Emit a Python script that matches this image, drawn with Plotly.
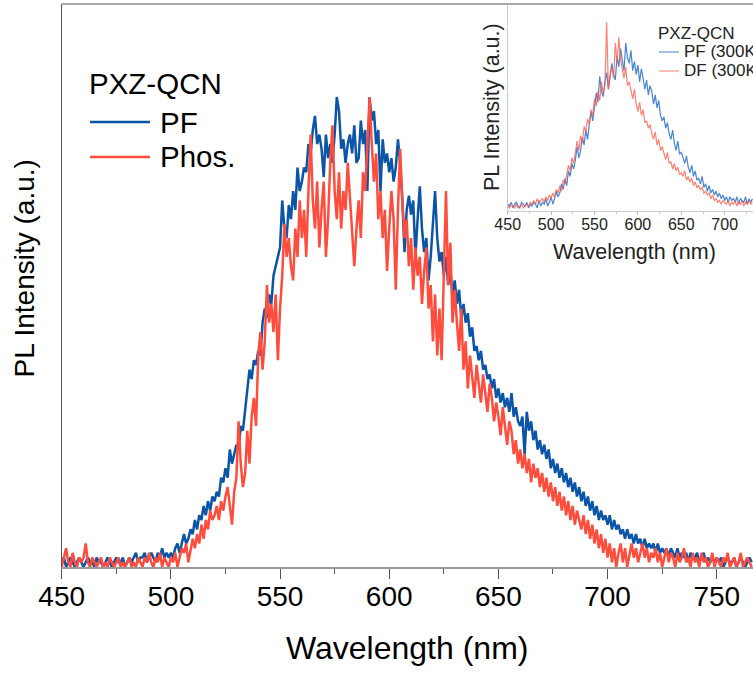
import plotly.graph_objects as go

# ---------------- data ----------------
wl_start, wl_step = 450, 1
pf_main = [
    0.01, 0.02, 0.00, 0.01, 0.02, 0.01, 0.00, 0.01, 0.02, 0.01,
    0.00, 0.01, 0.02, 0.01, 0.01, 0.00, 0.02, 0.01, 0.01, 0.00,
    0.01, 0.02, 0.01, 0.00, 0.01, 0.02, 0.01, 0.01, 0.02, 0.00,
    0.01, 0.02, 0.01, 0.02, 0.03, 0.01, 0.02, 0.02, 0.03, 0.01,
    0.02, 0.03, 0.02, 0.01, 0.03, 0.02, 0.04, 0.02, 0.03, 0.02,
    0.03, 0.02, 0.04, 0.05, 0.03, 0.05, 0.07, 0.05, 0.06, 0.08,
    0.07, 0.10, 0.08, 0.11, 0.10, 0.13, 0.11, 0.14, 0.12, 0.15,
    0.14, 0.16, 0.15, 0.19, 0.18, 0.21, 0.19, 0.25, 0.22, 0.24,
    0.26, 0.25, 0.30, 0.29, 0.33, 0.37, 0.42, 0.40, 0.44, 0.43,
    0.46, 0.45, 0.52, 0.55, 0.53, 0.58, 0.56, 0.62, 0.64, 0.66,
    0.68, 0.78, 0.72, 0.70, 0.77, 0.74, 0.80, 0.76, 0.85, 0.80,
    0.82, 0.85, 0.84, 0.90, 0.88, 0.93, 0.96, 0.90, 0.92, 0.89,
    0.83, 0.92, 0.87, 0.90, 0.86, 0.92, 1.00, 0.97, 0.89, 0.91,
    0.86, 0.90, 0.92, 0.88, 0.94, 0.86, 0.87, 0.95, 0.90, 0.93,
    0.80, 1.00, 0.95, 0.97, 0.90, 0.93, 0.80, 0.91, 0.86, 0.88,
    0.84, 0.87, 0.82, 0.85, 0.91, 0.86, 0.78, 0.67, 0.76, 0.79,
    0.75, 0.78, 0.66, 0.74, 0.81, 0.72, 0.67, 0.70, 0.61, 0.66,
    0.73, 0.80, 0.70, 0.65, 0.67, 0.62, 0.66, 0.60, 0.63, 0.58,
    0.61, 0.56, 0.59, 0.53, 0.56, 0.52, 0.54, 0.49, 0.51, 0.46,
    0.47, 0.44, 0.46, 0.42, 0.43, 0.40, 0.41, 0.38, 0.40, 0.36,
    0.38, 0.35, 0.37, 0.34, 0.36, 0.33, 0.37, 0.32, 0.34, 0.31,
    0.30, 0.32, 0.24, 0.33, 0.29, 0.31, 0.27, 0.29, 0.25, 0.27,
    0.24, 0.26, 0.23, 0.25, 0.21, 0.23, 0.20, 0.22, 0.19, 0.21,
    0.18, 0.20, 0.17, 0.19, 0.16, 0.18, 0.15, 0.17, 0.14, 0.16,
    0.13, 0.15, 0.12, 0.14, 0.11, 0.13, 0.10, 0.12, 0.10, 0.11,
    0.09, 0.11, 0.08, 0.10, 0.08, 0.09, 0.07, 0.08, 0.06, 0.08,
    0.06, 0.07, 0.05, 0.07, 0.05, 0.06, 0.04, 0.06, 0.04, 0.05,
    0.04, 0.05, 0.03, 0.05, 0.03, 0.04, 0.03, 0.04, 0.02, 0.04,
    0.03, 0.02, 0.04, 0.02, 0.03, 0.02, 0.03, 0.01, 0.03, 0.02,
    0.02, 0.03, 0.01, 0.02, 0.03, 0.01, 0.02, 0.01, 0.02, 0.01,
    0.02, 0.01, 0.02, 0.00, 0.01, 0.02, 0.01, 0.01, 0.02, 0.00,
    0.01, 0.02, 0.01, 0.00, 0.01, 0.02, 0.01,
]
phos_main = [
    0.00, 0.02, 0.04, 0.01, 0.00, 0.03, 0.01, 0.00, 0.02, 0.01,
    0.02, 0.05, 0.01, 0.00, 0.02, 0.01, 0.00, 0.01, 0.02, 0.00,
    0.01, 0.00, 0.02, 0.01, 0.00, 0.01, 0.02, 0.00, 0.01, 0.00,
    0.01, 0.02, 0.00, 0.01, 0.00, 0.02, 0.01, 0.00, 0.02, 0.01,
    0.03, 0.01, 0.00, 0.02, 0.01, 0.03, 0.00, 0.02, 0.01, 0.00,
    0.02, 0.01, 0.03, 0.00, 0.02, 0.04, 0.03, 0.05, 0.01, 0.04,
    0.06, 0.04, 0.07, 0.05, 0.09, 0.06, 0.10, 0.08, 0.12, 0.10,
    0.11, 0.13, 0.10, 0.14, 0.12, 0.15, 0.17, 0.13, 0.09, 0.16,
    0.19, 0.31, 0.22, 0.17, 0.20, 0.29, 0.22, 0.32, 0.36, 0.30,
    0.45, 0.50, 0.42, 0.48, 0.60, 0.52, 0.56, 0.50, 0.58, 0.44,
    0.55, 0.62, 0.73, 0.66, 0.70, 0.64, 0.61, 0.72, 0.66, 0.78,
    0.70, 0.76, 0.66, 0.80, 0.92, 0.78, 0.72, 0.82, 0.68, 0.76,
    0.82, 0.66, 0.74, 0.86, 0.94, 0.80, 0.74, 0.84, 0.72, 0.80,
    0.76, 0.86, 0.78, 0.70, 0.64, 0.72, 0.78, 0.70, 0.84, 0.80,
    0.91, 1.00, 0.90, 0.82, 0.88, 0.74, 0.80, 0.70, 0.76, 0.63,
    0.72, 0.80, 0.74, 0.59, 0.76, 0.89, 0.78, 0.70, 0.74, 0.64,
    0.70, 0.59, 0.68, 0.62, 0.66, 0.56, 0.63, 0.68, 0.55, 0.60,
    0.48, 0.58, 0.45, 0.55, 0.44, 0.62, 0.80, 0.60, 0.69, 0.52,
    0.59, 0.52, 0.46, 0.55, 0.42, 0.48, 0.38, 0.45, 0.40, 0.36,
    0.43, 0.39, 0.35, 0.41, 0.37, 0.33, 0.39, 0.36, 0.31, 0.35,
    0.32, 0.28, 0.34, 0.30, 0.26, 0.31, 0.29, 0.24, 0.27, 0.22,
    0.25, 0.21, 0.24, 0.20, 0.23, 0.18, 0.22, 0.19, 0.21, 0.17,
    0.20, 0.16, 0.19, 0.15, 0.18, 0.14, 0.17, 0.13, 0.16, 0.12,
    0.15, 0.11, 0.14, 0.10, 0.13, 0.09, 0.12, 0.10, 0.08, 0.11,
    0.07, 0.10, 0.06, 0.09, 0.05, 0.08, 0.04, 0.07, 0.03, 0.06,
    0.02, 0.05, 0.01, 0.04, 0.00, 0.03, 0.05, 0.01, 0.04, 0.00,
    0.03, 0.05, 0.02, 0.04, 0.01, 0.03, 0.05, 0.02, 0.04, 0.01,
    0.03, 0.02, 0.04, 0.01, 0.03, 0.00, 0.02, 0.04, 0.01, 0.03,
    0.02, 0.00, 0.03, 0.01, 0.02, 0.04, 0.01, 0.02, 0.00, 0.03,
    0.01, 0.02, 0.00, 0.03, 0.01, 0.02, 0.00, 0.01, 0.03, 0.00,
    0.02, 0.01, 0.00, 0.02, 0.01, 0.03, 0.00, 0.01, 0.02, 0.00,
    0.01, 0.03, 0.00, 0.01, 0.02, 0.01, 0.00,
]

inset_start, inset_step = 450, 2
pf_inset = [
    0.02, 0.01, 0.03, 0.00, 0.02, 0.03, 0.01, 0.00, 0.03, 0.02,
    0.01, 0.03, 0.00, 0.02, 0.01, 0.03, 0.02, 0.00, 0.04, 0.01,
    0.03, 0.02, 0.05, 0.01, 0.03, 0.06, 0.02, 0.05, 0.09, 0.06,
    0.08, 0.13, 0.10, 0.16, 0.12, 0.20, 0.17, 0.24, 0.21, 0.26,
    0.33, 0.27, 0.31, 0.38, 0.34, 0.42, 0.37, 0.45, 0.52, 0.47,
    0.55, 0.62, 0.57, 0.71, 0.63, 0.60, 0.68, 0.73, 0.64, 0.70,
    0.78, 0.72, 0.69, 0.82, 0.76, 0.86, 0.79, 0.74, 0.89, 0.81,
    0.78, 0.85, 0.74, 0.79, 0.72, 0.77, 0.68, 0.75, 0.70, 0.64,
    0.69, 0.61, 0.66, 0.63, 0.56, 0.61, 0.54, 0.58, 0.50, 0.47,
    0.49, 0.43, 0.46, 0.40, 0.37, 0.42, 0.35, 0.31, 0.36, 0.29,
    0.30, 0.27, 0.24, 0.28, 0.22, 0.19, 0.23, 0.17, 0.20, 0.15,
    0.16, 0.13, 0.17, 0.11, 0.13, 0.09, 0.12, 0.08, 0.10, 0.07,
    0.09, 0.06, 0.08, 0.05, 0.07, 0.04, 0.06, 0.03, 0.06, 0.04,
    0.05, 0.03, 0.06, 0.02, 0.05, 0.04, 0.03, 0.06, 0.02, 0.05,
    0.03, 0.05,
]
df_inset = [
    0.01, 0.00, 0.02, 0.01, 0.00, 0.02, 0.00, 0.01, 0.02, 0.00,
    0.01, 0.02, 0.01, 0.03, 0.02, 0.04, 0.02, 0.05, 0.03, 0.04,
    0.05, 0.03, 0.06, 0.04, 0.07, 0.05, 0.08, 0.06, 0.10, 0.08,
    0.12, 0.09, 0.15, 0.13, 0.19, 0.23, 0.20, 0.27, 0.24, 0.30,
    0.36, 0.31, 0.39, 0.35, 0.44, 0.41, 0.48, 0.45, 0.53, 0.50,
    0.59, 0.55, 0.63, 0.58, 0.68, 0.62, 0.66, 1.00, 0.64, 0.72,
    0.76, 0.70, 0.89, 0.78, 0.92, 0.80, 0.74, 0.70, 0.76, 0.66,
    0.68, 0.63, 0.59, 0.64, 0.56, 0.52, 0.57, 0.50, 0.53, 0.46,
    0.47, 0.43, 0.45, 0.40, 0.37, 0.41, 0.34, 0.37, 0.31, 0.33,
    0.29, 0.26, 0.30, 0.24, 0.25, 0.21, 0.24, 0.20, 0.22, 0.18,
    0.19, 0.17, 0.20, 0.15, 0.17, 0.14, 0.16, 0.12, 0.14, 0.11,
    0.12, 0.10, 0.11, 0.08, 0.09, 0.07, 0.08, 0.05, 0.07, 0.04,
    0.05, 0.03, 0.04, 0.02, 0.04, 0.03, 0.02, 0.04, 0.01, 0.03,
    0.02, 0.04, 0.01, 0.03, 0.02, 0.04, 0.01, 0.03, 0.02, 0.04,
    0.02, 0.03,
]
tick_vals = [450, 500, 550, 600, 650, 700, 750]
inset_tick_vals = [450, 500, 550, 600, 650, 700]

wl_main = [wl_start + i * wl_step for i in range(len(pf_main))]
wl_inset = [inset_start + i * inset_step for i in range(len(pf_inset))]

# ---------------- figure ----------------
W, H = 753, 673
FONT = "Liberation Sans, Arial, sans-serif"
BLUE, RED = "#0B55A8", "#FF4D3D"
BLUE_L, RED_L = "rgba(40,110,200,0.85)", "rgba(255,95,80,0.8)"

def px(x):
    return x / W

def py(y):
    return (H - y) / H

fig = go.Figure()
fig.add_trace(go.Scatter(x=wl_main, y=pf_main, mode="lines", name="PF",
                         line=dict(color=BLUE, width=2.5), xaxis="x", yaxis="y"))
fig.add_trace(go.Scatter(x=wl_main, y=phos_main, mode="lines", name="Phos.",
                         line=dict(color=RED, width=2.5), xaxis="x", yaxis="y"))
fig.add_trace(go.Scatter(x=wl_inset, y=pf_inset, mode="lines", name="PF (300K)",
                         line=dict(color=BLUE_L, width=1.2), xaxis="x2", yaxis="y2"))
fig.add_trace(go.Scatter(x=wl_inset, y=df_inset, mode="lines", name="DF (300K)",
                         line=dict(color=RED_L, width=1.2), xaxis="x2", yaxis="y2"))

main_left, main_bottom, main_top = 61.7, 567, 4
ins_left, ins_bottom = 507.7, 210.7

fig.update_layout(
    width=W, height=H, margin=dict(l=0, r=0, t=0, b=0, autoexpand=False),
    paper_bgcolor="white", plot_bgcolor="white", showlegend=False,
    font=dict(family=FONT, color="black"),
    xaxis=dict(domain=[px(main_left), 1], range=[450, 766.6], tickvals=tick_vals,
               ticks="outside", ticklen=10, tickwidth=1, tickcolor="#555",
               ticklabelstandoff=-6,
               showline=True, linecolor="#999", linewidth=1.5, automargin=False,
               showgrid=False, zeroline=False, tickfont=dict(size=28, color="black"),
               minor=dict(dtick=25, tick0=450, ticks="outside", ticklen=5, tickcolor="#555"),
               anchor="y"),
    yaxis=dict(domain=[py(main_bottom), py(main_top)], range=[0, 1.198],
               showticklabels=False, ticks="", showline=True, linecolor="#555",
               linewidth=1, showgrid=False, zeroline=False, anchor="x", automargin=False),
    xaxis2=dict(domain=[px(ins_left), 1], range=[450, 732.6], tickvals=inset_tick_vals,
                ticks="outside", ticklen=3, tickcolor="#bbb", automargin=False,
                ticklabelstandoff=-4,
                showline=True, linecolor="#ccc", linewidth=1,
                showgrid=False, zeroline=False, tickfont=dict(size=16, color="#222"),
                minor=dict(dtick=25, tick0=450, ticks="outside", ticklen=2, tickcolor="#ccc"),
                anchor="y2"),
    yaxis2=dict(domain=[py(ins_bottom), py(main_top)], range=[-0.015, 1.10],
                showticklabels=False, ticks="", showline=True, linecolor="#ccc",
                linewidth=1, showgrid=False, zeroline=False, anchor="x2", automargin=False),
)

shapes = [
    dict(type="line", xref="paper", yref="paper", x0=px(main_left), x1=1,
         y0=py(main_top), y1=py(main_top), line=dict(color="#aaa", width=2)),
    dict(type="line", xref="paper", yref="paper", x0=px(90), x1=px(150),
         y0=py(122), y1=py(122), line=dict(color=BLUE, width=2.5)),
    dict(type="line", xref="paper", yref="paper", x0=px(90), x1=px(150),
         y0=py(157), y1=py(157), line=dict(color=RED, width=2.5)),
    dict(type="line", xref="paper", yref="paper", x0=px(659), x1=px(679),
         y0=py(52), y1=py(52), line=dict(color=BLUE_L, width=1)),
    dict(type="line", xref="paper", yref="paper", x0=px(659), x1=px(679),
         y0=py(71), y1=py(71), line=dict(color=RED_L, width=1)),
]
fig.update_layout(shapes=shapes)

def ann(text, x, y, size, xanchor="left", textangle=0, color="black"):
    return dict(text=text, xref="paper", yref="paper", x=px(x), y=py(y),
                xanchor=xanchor, yanchor="middle", showarrow=False,
                textangle=textangle, font=dict(size=size, color=color, family=FONT))

annotations = [
    ann("Wavelength (nm)", 407, 648, 32, xanchor="center"),
    ann("PL Intensity (a.u.)", 24, 268.5, 28, xanchor="center", textangle=-90),
    ann("PXZ-QCN", 87, 83, 29.5),
    ann("PF", 158, 122, 29.5),
    ann("Phos.", 158, 157, 29.5),
    ann("Wavelength (nm)", 634, 251.7, 21.5, xanchor="center", color="#222"),
    ann("PL Intensity (a.u.)", 492, 107, 21.5, xanchor="center", textangle=-90, color="#222"),
    ann("PXZ-QCN", 656, 33, 17, color="#222"),
    ann("PF (300K)", 682, 52, 17, color="#222"),
    ann("DF (300K)", 682, 71, 17, color="#222"),
]
fig.update_layout(annotations=annotations)

fig.write_html("out.html", config={"displayModeBar": False},
               post_script="document.body.style.margin='0';")
